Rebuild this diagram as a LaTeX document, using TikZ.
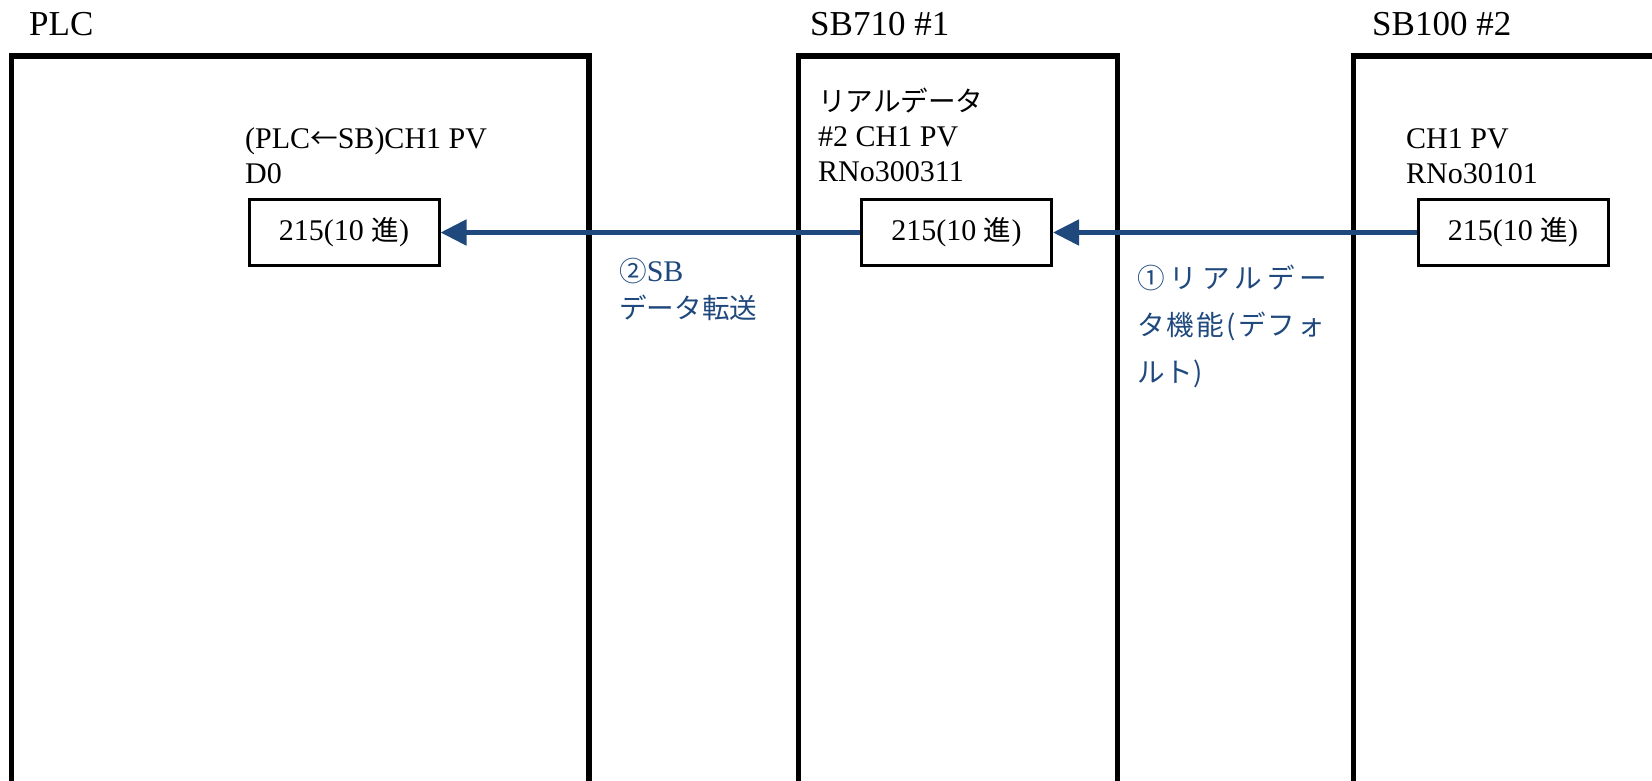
\documentclass[tikz,border=0pt]{standalone}
\usepackage{fontspec}
\setmainfont{Liberation Serif}
\newfontfamily\jp{Noto Sans CJK JP}[Scale=0.92]
\usetikzlibrary{arrows.meta}
\definecolor{linkblue}{RGB}{31,73,125}

\tikzset{
  unitbox/.style={draw, line width=5.5pt, anchor=north west, inner sep=0pt},
  regbox/.style={draw, line width=3pt, minimum width=190pt, minimum height=66pt, inner sep=0pt, font=\fontsize{30}{35}\selectfont},
  unitname/.style={anchor=base west, inner sep=0pt, font=\fontsize{35}{40}\selectfont},
  info/.style={anchor=north west, inner sep=0pt, align=left, font=\fontsize{30}{35}\selectfont},
  note/.style={anchor=north west, inner sep=0pt, align=left, text=linkblue},
  transfer/.style={-{Triangle[length=26pt,width=25pt]}, line width=5pt, draw=linkblue},
}

\begin{document}
\begin{tikzpicture}[x=1pt,y=-1pt]
\useasboundingbox (0,0) rectangle (1652,780);
\clip (0,0) rectangle (1652,780);

% units
\node (plc) at (8.5,53) [unitbox, minimum width=577.5pt, minimum height=800pt] {};
\node (sbA) at (795.5,53) [unitbox, minimum width=319pt, minimum height=800pt] {};
\node (sbB) at (1350.5,53) [unitbox, minimum width=400pt, minimum height=800pt] {};

\node (plcname) at (29,35) [unitname] {PLC};
\node (sbAname) at (810,35) [unitname] {SB710 \#1};
\node (sbBname) at (1372,35) [unitname] {SB100 \#2};

% registers
\node (plcinfo) at (245,127) [info] {(PLC{\jp ←}SB)CH1 PV\\D0};
\node (sbAinfo) at (818,88) [info] {{\jp リアルデータ}\\\#2 CH1 PV\\RNo300311};
\node (sbBinfo) at (1406,128) [info] {CH1 PV\\RNo30101};

\node (plcreg) at (344,232.5) [regbox] {215(10 {\jp 進})};
\node (sbAreg) at (956.5,232.5) [regbox] {215(10 {\jp 進})};
\node (sbBreg) at (1513,232.5) [regbox] {215(10 {\jp 進})};

\draw [transfer] (sbBreg.west) -- (sbAreg.east);
\draw [transfer] (sbAreg.west) -- (plcreg.east);

\node (step2) at (619,258) [note, font=\fontsize{30}{37}\selectfont] {{\jp ②}SB\\{\jp データ転送}};
\node (step1) at (1137,265) [note, font=\fontsize{30}{47}\selectfont]
  {\makebox[190pt][s]{\jp ①\hfill リ\hfill ア\hfill ル\hfill デ\hfill ー}\\
   \makebox[188pt][s]{\jp タ\hfill 機\hfill 能\hfill (\hfill デ\hfill フ\hfill ォ}\\
   \makebox[66pt][s]{\jp ル\hfill ト\hfill )}};
\end{tikzpicture}
\end{document}
